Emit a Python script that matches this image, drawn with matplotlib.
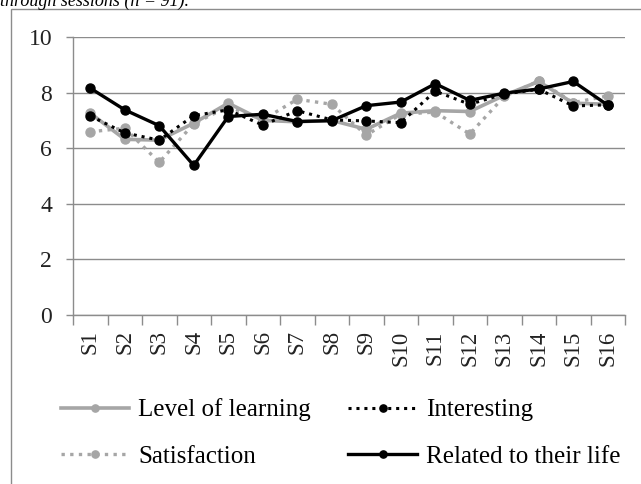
import matplotlib
matplotlib.use("Agg")
from matplotlib import pyplot as plt
from matplotlib.patches import Rectangle
import numpy as np

sessions = ["S1", "S2", "S3", "S4", "S5", "S6", "S7", "S8",
            "S9", "S10", "S11", "S12", "S13", "S14", "S15", "S16"]

level_of_learning = [7.26, 6.32, 6.29, 6.9, 7.62, 7.0, 6.95, 7.0,
                     6.68, 7.26, 7.35, 7.32, 7.9, 8.4, 7.62, 7.58]
interesting = [7.16, 6.55, 6.29, 7.17, 7.38, 6.83, 7.35, 7.02,
               6.98, 6.92, 8.05, 7.58, 7.95, 8.12, 7.52, 7.56]
satisfaction = [6.59, 6.72, 5.49, 6.88, 7.5, 7.02, 7.76, 7.58,
                6.47, 7.22, 7.3, 6.51, 7.86, 8.42, 7.64, 7.88]
related_to_life = [8.16, 7.38, 6.81, 5.38, 7.14, 7.22, 6.96, 6.99,
                   7.53, 7.66, 8.32, 7.72, 7.98, 8.13, 8.4, 7.55]

yticks = [0, 2, 4, 6, 8, 10]

plt.rcParams['font.family'] = ['Liberation Serif', 'DejaVu Serif']

W, H = 641, 484
fig = plt.figure(figsize=(W / 100, H / 100), dpi=100)

# axes placed in pixel terms of the reference
left, right, top, bottom = 73, 625, 37, 315
ax = fig.add_axes([left / W, 1 - bottom / H, (right - left) / W, (bottom - top) / H])

grey = "#a6a6a6"
axis_grey = "#8c8c8c"
dot = (0, (1, 1.6))
x = np.arange(len(sessions))

ax.plot(x, level_of_learning, color=grey, lw=2.6, marker="o", ms=6.5,
        label="Level of learning", zorder=3)
ax.plot(x, satisfaction, color=grey, lw=2.4, ls=dot, marker="o", ms=6.5,
        label="Satisfaction", zorder=3)
ax.plot(x, interesting, color="black", lw=2.2, ls=dot, marker="o", ms=6.5,
        label="Interesting", zorder=4)
ax.plot(x, related_to_life, color="black", lw=2.4, marker="o", ms=6.5,
        label="Related to their life", zorder=5)

ax.set_xlim(-0.5, len(sessions) - 0.5)
ax.set_ylim(0, 10)
ax.set_yticks(yticks)
ax.set_yticklabels([str(v) for v in yticks], fontsize=17, color="#222222")
ax.set_xticks(x)
ax.set_xticklabels(sessions, rotation=90, fontsize=16.5, color="#222222")
ax.set_xticks(np.arange(-0.5, len(sessions)), minor=True)
ax.tick_params(axis="x", which="major", length=0, pad=11)
ax.tick_params(axis="x", which="minor", length=7, color=axis_grey, width=1)
ax.tick_params(axis="y", length=5, color=axis_grey, width=1, pad=10)

ax.grid(axis="y", color=axis_grey, lw=1)
ax.set_axisbelow(True)
for s in ["top", "right"]:
    ax.spines[s].set_visible(False)
for s in ["left", "bottom"]:
    ax.spines[s].set_color(axis_grey)
    ax.spines[s].set_linewidth(1)

# legend below the chart, two columns
handles, labels = ax.get_legend_handles_labels()
fig.legend(handles, labels, ncol=2, loc="upper left",
           bbox_to_anchor=(38 / W, 1 - 376 / H), frameon=False,
           fontsize=18, handlelength=2.75, handletextpad=0.35,
           columnspacing=1.5, labelspacing=0.95, markerscale=0.8)

# outer chart frame, clipped by the picture like the source
fig.patches.append(Rectangle((11 / W, -0.1), 1.2, 1 - 9 / H + 0.1,
                             transform=fig.transFigure, fill=False,
                             edgecolor=axis_grey, lw=1))

fig.text(0.0, 1 - 6 / H, "through sessions (n = 91).", fontsize=13,
         style="italic", va="baseline", ha="left")

fig.savefig("out.png", dpi=100)
